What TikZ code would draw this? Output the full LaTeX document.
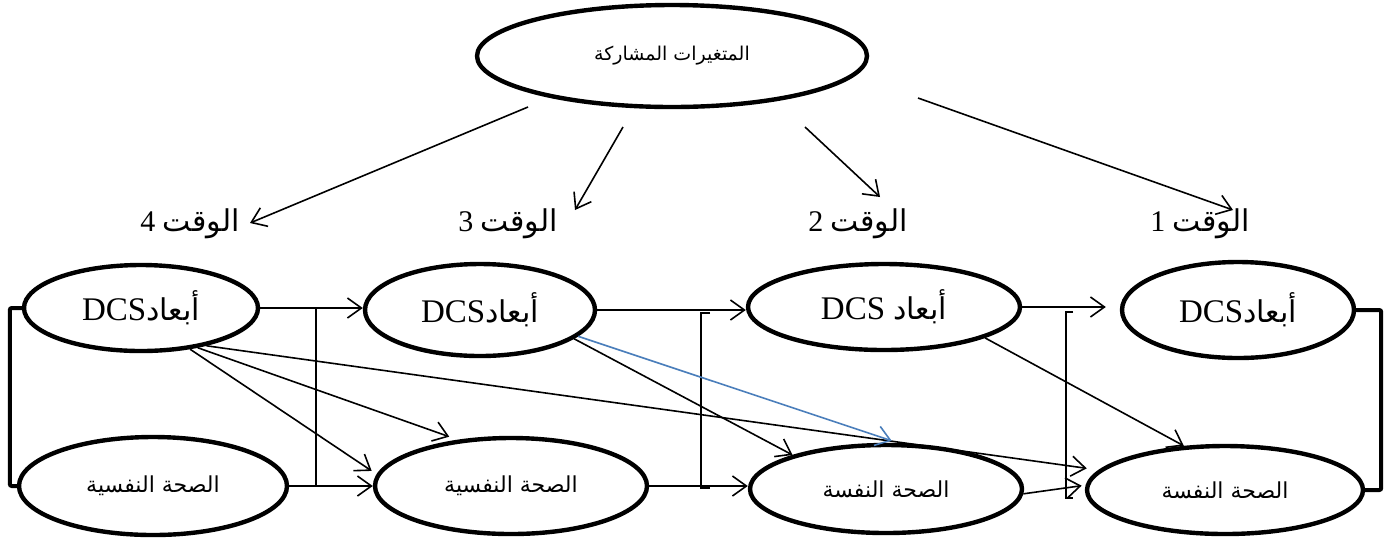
\documentclass[tikz,border=0pt]{standalone}
\usepackage{fontspec}
\setmainfont{Liberation Serif}
\newfontfamily\arabicfont[Script=Arabic]{DejaVu Sans}
\TeXXeTstate=1
\usetikzlibrary{shapes.geometric,arrows.meta}
\definecolor{linkblue}{RGB}{74,126,187}
% Arabic run set right to left
\newcommand{\artext}[1]{{\arabicfont\beginR #1\endR}}

\begin{document}
\begin{tikzpicture}[x=0.5pt,y=-0.5pt,
  oval/.style={ellipse,draw,line width=2.2pt,inner sep=0pt},
  conn/.style={line width=0.8pt,-{Straight Barb[length=7pt,width=10pt]}},
  bar/.style={line width=0.8pt},
  brace/.style={line width=2pt,rounded corners=1pt},
  dcs/.style={font=\fontsize{16.5}{18}\selectfont},
  health/.style={font=\fontsize{11}{13}\selectfont},
  lbl/.style={inner sep=0pt,font=\fontsize{15}{18}\selectfont}]
\useasboundingbox (0,0) rectangle (1390,537);

% shared variables
\node[oval,minimum width=195pt,minimum height=51pt,font=\fontsize{9.5}{12}\selectfont] (top) at (672,56) {\artext{المتغيرات المشاركة}};

% time labels
\node[lbl,anchor=east] (t4) at (240,224) {4 \artext{الوقت}};
\node[lbl,anchor=east] (t3) at (558,224) {3 \artext{الوقت}};
\node[lbl,anchor=east] (t2) at (908,224) {2 \artext{الوقت}};
\node[lbl,anchor=east] (t1) at (1250,224) {1 \artext{الوقت}};

% DCS dimensions per wave
\node[oval,dcs,minimum width=117pt,minimum height=43pt] (d4) at (141,308) {DCS\artext{\fontsize{15}{18}\selectfont أبعاد}};
\node[oval,dcs,minimum width=115pt,minimum height=46pt] (d3) at (480,310) {DCS\artext{\fontsize{15}{18}\selectfont أبعاد}};
\node[oval,dcs,minimum width=136pt,minimum height=43pt] (d2) at (884,307) {DCS \artext{\fontsize{15}{18}\selectfont أبعاد}};
\node[oval,dcs,minimum width=116pt,minimum height=48pt] (d1) at (1238,310) {DCS\artext{\fontsize{15}{18}\selectfont أبعاد}};

% mental health per wave
\node[oval,health,minimum width=134pt,minimum height=49pt] (h4) at (153,486) {\artext{الصحة النفسية}};
\node[oval,health,minimum width=136pt,minimum height=48pt] (h3) at (511,486) {\artext{الصحة النفسية}};
\node[oval,health,minimum width=136pt,minimum height=44pt] (h2) at (886,489) {\artext{الصحة النفسة}};
\node[oval,health,minimum width=138pt,minimum height=44pt] (h1) at (1225,490) {\artext{الصحة النفسة}};

% arrows from the shared variables to each wave
\coordinate (s4) at (528,107); \coordinate (e4) at (250,223);
\coordinate (s3) at (623,127); \coordinate (e3) at (575,210);
\coordinate (s2) at (805,127); \coordinate (e2) at (880,197);
\coordinate (s1) at (918,98);  \coordinate (e1) at (1233,210);
\draw[conn] (s4) -- (e4);
\draw[conn] (s3) -- (e3);
\draw[conn] (s2) -- (e2);
\draw[conn] (s1) -- (e1);

% wave 4 -> wave 3
\coordinate (j43) at (316,0);
\draw[conn] (d4.east) -- (d4.east -| d3.west);
\draw[conn] (h4.east) -- (h4.east -| h3.west);
\draw[bar] (j43 |- d4.east) -- (j43 |- h4.east);

% wave 3 -> wave 2
\draw[conn] (d3.east) -- (d3.east -| d2.west);
\draw[conn] (h3.east) -- (h3.east -| h2.west);
\draw[bar] (710,313) -- (701,313) -- (701,488) -- (710,488);

% wave 2 -> wave 1
\draw[conn,shorten >=7pt] (d2.east) -- (d2.east -| d1.west);
\draw[conn,shorten >=2pt] (h2.-2) -- (h1.178);
\draw[bar] (1073,312) -- (1066,312) -- (1066,498) -- (1073,498);

% cross-lagged paths
\draw[conn,shorten >=6pt] (d4.-30) -- (h1.171);
\draw[conn,shorten >=4.5pt] (d4.-35) -- (h3.139);
\draw[conn,shorten >=3pt] (d4.-40) -- (h3.175);
\draw[conn] (d3.-17) -- (h2.160);
\draw[conn,linkblue,shorten >=3.5pt] (d3.-15) -- (h2.75);
\draw[conn] (d2.-17) -- (h1.133);

% side brackets
\draw[brace] (d4.west) -- ++(-12,0) |- (h4.west);
\draw[brace] (d1.east) -- ++(25,0) |- (h1.east);
\end{tikzpicture}
\end{document}
